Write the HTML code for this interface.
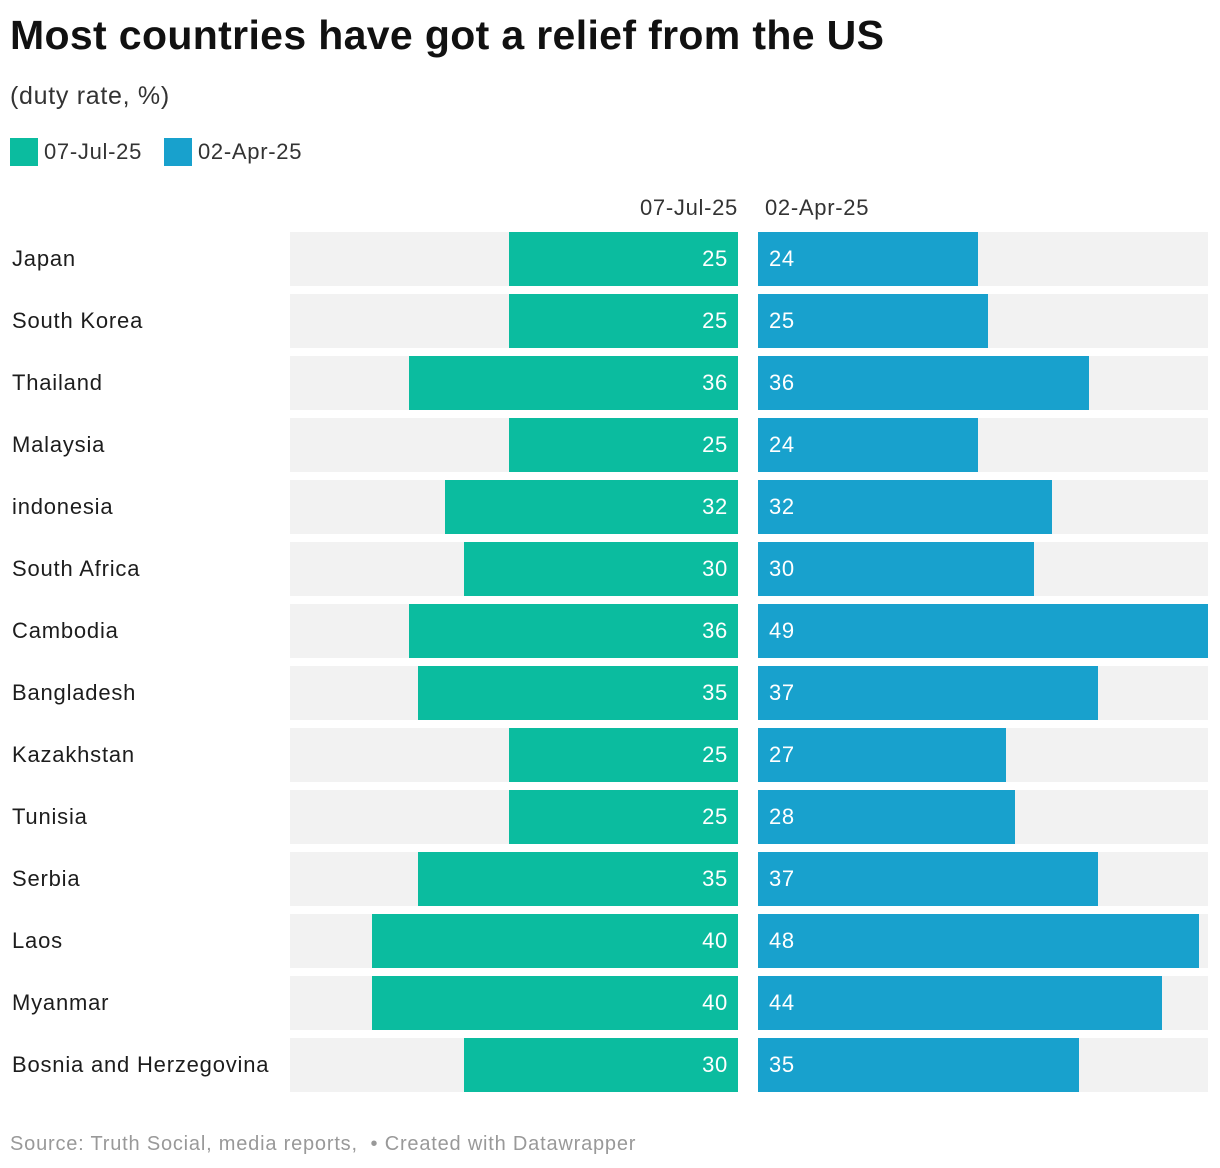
<!DOCTYPE html>
<html><head><meta charset="utf-8"><style>
body{margin:0;width:1220px;height:1168px;background:#fff;font-family:"Liberation Sans",Arial,sans-serif;position:relative;overflow:hidden;color:#1d1d1d}
.t{position:absolute;white-space:nowrap;letter-spacing:0.7px}
</style></head><body>
<div class="t" style="left:10px;top:12px;font-size:41px;font-weight:bold;color:#111;letter-spacing:0.35px">Most countries have got a relief from the US</div>
<div class="t" style="left:10px;top:82px;font-size:25px;color:#333">(duty rate, %)</div>
<div>
<div class="t" style="left:10px;top:138px;width:28px;height:28px;background:#0bbc9f"></div>
<div class="t" style="left:44px;top:139px;font-size:22px;color:#333">07-Jul-25</div>
<div class="t" style="left:164px;top:138px;width:28px;height:28px;background:#18a1cd"></div>
<div class="t" style="left:198px;top:139px;font-size:22px;color:#333">02-Apr-25</div>
</div>
<div class="t" style="right:482px;top:195px;font-size:22px;color:#333">07-Jul-25</div>
<div class="t" style="left:765px;top:195px;font-size:22px;color:#333">02-Apr-25</div>
<div id="chart"></div>
<div class="t" style="left:10px;top:1133px;font-size:20px;color:#999;letter-spacing:0.8px">Source: Truth Social, media reports, &nbsp;• Created with Datawrapper</div>
<script>
const categories=["Japan","South Korea","Thailand","Malaysia","indonesia","South Africa","Cambodia","Bangladesh","Kazakhstan","Tunisia","Serbia","Laos","Myanmar","Bosnia and Herzegovina"];
const julValues=[25,25,36,25,32,30,36,35,25,25,35,40,40,30];
const aprValues=[24,25,36,24,32,30,49,37,27,28,37,48,44,35];
const maxValue=49;
const chart=document.getElementById('chart');
const top0=232,pitch=62,rowH=54;
const L0=290,L1=738,R0=758,R1=1208;
const xl=v=>v/maxValue*(L1-L0), xr=v=>v/maxValue*(R1-R0);
function div(css,txt){const d=document.createElement('div');d.className='t';d.style.cssText=css;if(txt!=null)d.textContent=txt;chart.appendChild(d);return d;}
categories.forEach((c,i)=>{
 const y=top0+i*pitch;
 let e=div(`left:12px;top:${y+14}px;font-size:22px;color:#1d1d1d;letter-spacing:0.8px`,c);
 
 
 e=div(`left:${L0}px;top:${y}px;width:${L1-L0}px;height:${rowH}px;background:#f2f2f2`);
 
 
 e=div(`left:${R0}px;top:${y}px;width:${R1-R0}px;height:${rowH}px;background:#f2f2f2`);
 
 
 const wl=xl(julValues[i]);
 e=div(`left:${L1-wl}px;top:${y}px;width:${wl}px;height:${rowH}px;background:#0bbc9f`);
 
 
 e=div(`right:${1220-L1+10}px;top:${y+14}px;font-size:22px;color:#fff`,julValues[i]);
 
 
 const wr=xr(aprValues[i]);
 e=div(`left:${R0}px;top:${y}px;width:${wr}px;height:${rowH}px;background:#18a1cd`);
 
 
 e=div(`left:${R0+11}px;top:${y+14}px;font-size:22px;color:#fff`,aprValues[i]);
 
 
});
</script>
</body></html>
